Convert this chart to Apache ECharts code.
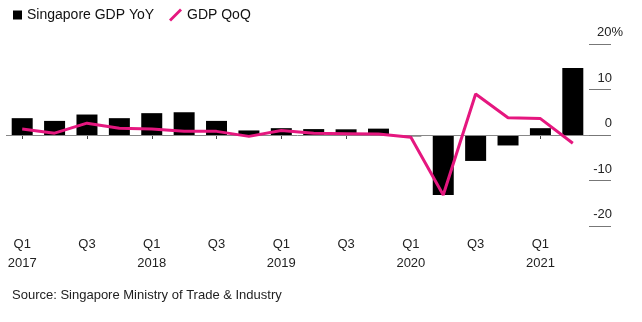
<!DOCTYPE html>
<html>
<head>
<meta charset="utf-8">
<script src="https://cdn.jsdelivr.net/npm/echarts@6/dist/echarts.min.js"></script>
<style>html,body{margin:0;padding:0;background:#fff}#c{width:642px;height:322px}</style>
</head>
<body>
<div id="c"></div>
<script>
const categories = ['Q1 2017','Q2 2017','Q3 2017','Q4 2017','Q1 2018','Q2 2018','Q3 2018','Q4 2018','Q1 2019','Q2 2019','Q3 2019','Q4 2019','Q1 2020','Q2 2020','Q3 2020','Q4 2020','Q1 2021','Q2 2021'];
const yoy = [3.7, 3.1, 4.5, 3.7, 4.8, 5.0, 3.1, 1.0, 1.5, 1.3, 1.25, 1.4, -0.3, -13.2, -5.7, -2.3, 1.5, 14.7];
const qoq = [1.3, 0.4, 2.6, 1.5, 1.3, 0.8, 0.8, -0.3, 1.0, 0.4, 0.3, 0.2, -0.5, -13.2, 9.0, 3.8, 3.6, -1.8];
const yTicks = [-20, -10, 0, 10, 20];

const FONT = '"Liberation Sans", Arial, sans-serif';
const chart = echarts.init(document.getElementById('c'), null, {renderer: 'canvas'});
chart.setOption({
  animation: false,
  textStyle: {fontFamily: FONT, color: '#222'},
  title: {
    text: 'Source: Singapore Ministry of Trade & Industry',
    left: 7, top: 284,
    textStyle: {fontFamily: FONT, fontSize: 13, fontWeight: 'normal', color: '#222'}
  },
  legend: [
    {
      left: 8, top: 3, itemWidth: 9, itemHeight: 9, itemGap: 10, itemTextGap: 8,
      data: [{name: 'Singapore GDP YoY', icon: 'rect'}],
      textStyle: {fontFamily: FONT, fontSize: 14, color: '#111'}
    },
    {
      left: 164, top: 3, itemWidth: 13, itemHeight: 13, itemTextGap: 6,
      data: [{name: 'GDP QoQ', icon: 'path://M0,11 L2,13 L13,2 L11,0 Z', itemStyle: {color: '#e5177f'}}],
      textStyle: {fontFamily: FONT, fontSize: 14, color: '#111'}
    }
  ],
  grid: {left: 6, right: 53, top: 44, bottom: 96},
  xAxis: {
    type: 'category',
    data: categories,
    boundaryGap: true,
    axisLine: {show: false},
    axisTick: {show: true, interval: 1, alignWithLabel: true, length: 4, lineStyle: {color: '#444'}},
    axisLabel: {
      interval: 1, margin: 9, fontSize: 13, lineHeight: 19, color: '#222', fontFamily: FONT,
      formatter: function (v) {
        const p = v.split(' ');
        return p[0] === 'Q1' ? p[0] + '\n' + p[1] : p[0];
      }
    },
    splitLine: {show: false}
  },
  yAxis: {
    type: 'value',
    position: 'right',
    min: -20, max: 20, interval: 10,
    axisLine: {show: false},
    axisTick: {show: true, length: 22, inside: false, lineStyle: {color: '#777', width: 1}},
    splitLine: {show: false},
    axisLabel: {
      margin: 2, align: 'left', verticalAlign: 'bottom', padding: [0, 0, 5, 0],
      fontSize: 13, color: '#222', fontFamily: FONT,
      formatter: function (v) { return v === yTicks[yTicks.length - 1] ? '{t|' + v + '%}' : '{n|' + v + '}'; },
      rich: {
        n: {fontSize: 13, color: '#222', fontFamily: FONT, width: 21, align: 'right'},
        t: {fontSize: 13, color: '#222', fontFamily: FONT, width: 30, align: 'left', padding: [0, 0, 0, 6]}
      }
    }
  },
  series: [
    {
      name: 'Singapore GDP YoY',
      type: 'bar',
      data: yoy,
      barWidth: 21,
      itemStyle: {color: '#000'},
      markLine: {
        silent: true, symbol: 'none', label: {show: false},
        lineStyle: {color: '#888', width: 1, type: 'solid'},
        data: [{yAxis: 0}]
      }
    },
    {
      name: 'GDP QoQ',
      type: 'line',
      data: qoq,
      showSymbol: false,
      symbol: 'none',
      lineStyle: {color: '#e5177f', width: 3},
      itemStyle: {color: '#e5177f'},
      z: 5
    }
  ]
});
</script>
</body>
</html>
